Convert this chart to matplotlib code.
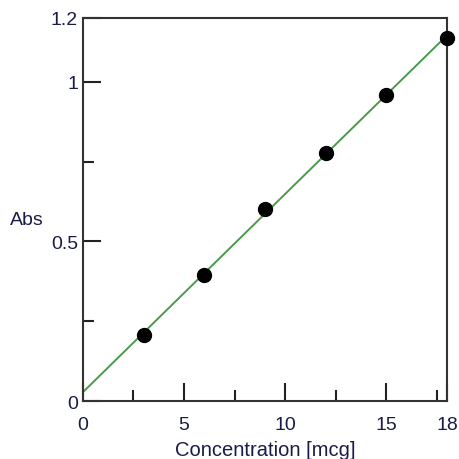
import numpy as np
import matplotlib.pyplot as plt
from matplotlib.ticker import MultipleLocator

plt.rcParams['font.family'] = ['Liberation Sans', 'DejaVu Sans']

# data
conc = [3, 6, 9, 12, 15, 18]
absorb = [0.207, 0.395, 0.602, 0.777, 0.959, 1.138]

xticks = [0, 5, 10, 15, 18]
yticks = [0, 0.5, 1, 1.2]
ytick_labels = ['0', '0.5', '1', '1.2']

text_color = '#1a1c48'

# least squares line through the points
slope, intercept = np.polyfit(conc, absorb, 1)
fit_x = np.array([0, 18])
fit_y = slope * fit_x + intercept

fig = plt.figure(figsize=(4.6, 4.6), dpi=100)
ax = fig.add_axes([0.180, 0.126, 0.792, 0.833])

ax.plot(fit_x, fit_y, color='#4a9a4a', linewidth=1.4, zorder=2)
ax.plot(conc, absorb, 'o', color='black', markersize=10, zorder=3, clip_on=False)

ax.set_xlim(0, 18)
ax.set_ylim(0, 1.2)

ax.set_xticks(xticks)
ax.set_xticklabels([str(t) for t in xticks])
ax.set_yticks(yticks)
ax.set_yticklabels(ytick_labels)
ax.xaxis.set_minor_locator(MultipleLocator(2.5))
ax.yaxis.set_minor_locator(MultipleLocator(0.25))

ax.tick_params(which='major', direction='in', length=13, width=1.5, color='#222222',
               labelsize=14, labelcolor=text_color)
ax.tick_params(which='minor', direction='in', length=8, width=1.5, color='#222222')
ax.tick_params(axis='x', pad=11)
ax.tick_params(axis='y', pad=3.5)

for s in ax.spines.values():
    s.set_linewidth(1.5)
    s.set_color('#333333')

ax.set_xlabel('Concentration [mcg]', fontsize=14.5, color=text_color, labelpad=5)
ax.set_ylabel('Abs', fontsize=14, color=text_color, rotation=0, va='center', ha='center')
ax.yaxis.set_label_coords(-0.154, 0.475)

fig.savefig('out.png', dpi=100)
